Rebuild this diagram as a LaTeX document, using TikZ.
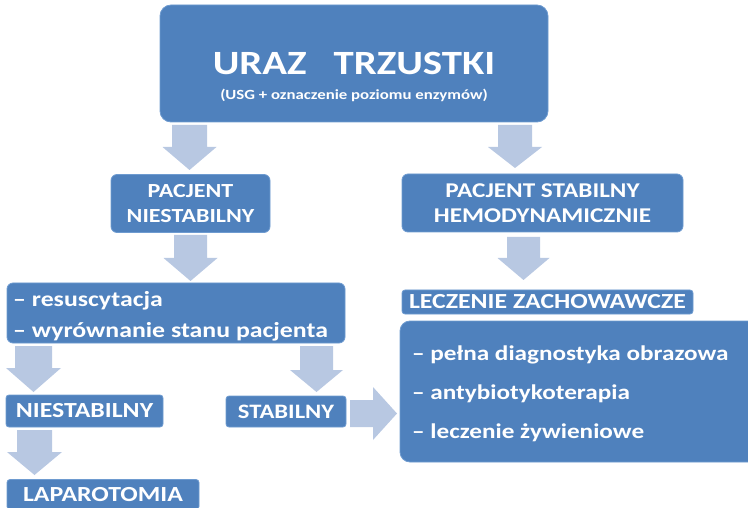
\documentclass[tikz,border=0pt]{standalone}
\usepackage{fontspec}
\setmainfont{Carlito}[FakeStretch=1.2]
\definecolor{boxblue}{RGB}{79,129,189}
\definecolor{boxedge}{RGB}{110,155,208}
\definecolor{arrblue}{RGB}{184,200,226}
\newcommand{\dnblock}[6]{% cx, ytop, yhead, ytip, shaft half, head half
  \fill[arrblue] (#1-#5,#2) -- (#1+#5,#2) -- (#1+#5,#3) -- (#1+#6,#3) -- (#1,#4) -- (#1-#6,#3) -- (#1-#5,#3) -- cycle;}
\tikzset{
  box/.style={fill=boxblue, draw=boxedge, line width=0.8pt, rounded corners=4pt, inner sep=0pt},
  wtxt/.style={text=white, font=\bfseries, inner sep=0pt},
}
\begin{document}
\begin{tikzpicture}[x=1pt,y=-1pt]
\useasboundingbox (0,0) rectangle (748,508);
% boxes
\node[box, rounded corners=11pt, minimum width=388pt, minimum height=117pt] (top) at (354,63.5) {};
\node[wtxt, anchor=base, font=\bfseries\fontsize{34}{40}\selectfont] (title) at (354,75) {URAZ\hspace{27pt}TRZUSTKI};
\node[wtxt, anchor=base, font=\bfseries\fontsize{14}{16}\selectfont] (subtitle) at (354,99.5) {(USG + oznaczenie poziomu enzymów)};
\node[box, rounded corners=6pt, minimum width=159pt, minimum height=58pt, wtxt, align=center, font=\bfseries\fontsize{20}{25}\selectfont] (pn) at (190.5,203.5) {PACJENT\\NIESTABILNY};
\node[box, rounded corners=6pt, minimum width=281pt, minimum height=58pt, wtxt, align=center, font=\bfseries\fontsize{21}{25.5}\selectfont] (ps) at (542.5,203) {PACJENT STABILNY\\HEMODYNAMICZNIE};
\node[box, rounded corners=6pt, minimum width=338pt, minimum height=60pt] (res) at (176,313) {};
\node[wtxt, align=left, anchor=west, font=\bfseries\fontsize{21.5}{31}\selectfont] (restxt) at (13,316) {– resuscytacja\\– wyrównanie stanu pacjenta};
\node[box, rounded corners=3pt, minimum width=291pt, minimum height=24pt, wtxt, font=\bfseries\fontsize{21.5}{24}\selectfont] (lz) at (547.5,302) {LECZENIE ZACHOWAWCZE};
\node[box, rounded corners=10pt, minimum width=360pt, minimum height=141pt] (big) at (580,391.5) {};
\node[wtxt, align=left, anchor=west, font=\bfseries\fontsize{21}{39}\selectfont] (bigtxt) at (412,393.5) {– pełna diagnostyka obrazowa\\– antybiotykoterapia\\– leczenie żywieniowe};
\node[box, rounded corners=3pt, minimum width=157pt, minimum height=32pt, wtxt, font=\bfseries\fontsize{21.5}{24}\selectfont] (nies) at (84.5,411) {NIESTABILNY};
\node[box, rounded corners=3pt, minimum width=120pt, minimum height=31pt, wtxt, font=\bfseries\fontsize{20.5}{24}\selectfont] (stab) at (286,411.5) {STABILNY};
\node[box, rounded corners=3pt, minimum width=192pt, minimum height=30pt, wtxt, font=\bfseries\fontsize{21.5}{24}\selectfont] (lap) at (103,494.5) {LAPAROTOMIA};
% block arrows
\dnblock{189.5}{125}{147}{170}{17.5}{27}
\dnblock{515}{125}{147}{168}{17}{27}
\dnblock{190.5}{235}{258}{281}{16.5}{27}
\dnblock{523.5}{237}{258}{280}{16.5}{26}
\dnblock{33.5}{346}{368}{392}{18.5}{27.5}
\dnblock{316.5}{346}{370}{392}{16.5}{26.5}
\dnblock{34.5}{430}{452}{475}{17.5}{27.5}
\fill[arrblue] (350,400) -- (373,400) -- (373,387) -- (397,413.5) -- (373,440) -- (373,427) -- (350,427) -- cycle;
\end{tikzpicture}
\end{document}
